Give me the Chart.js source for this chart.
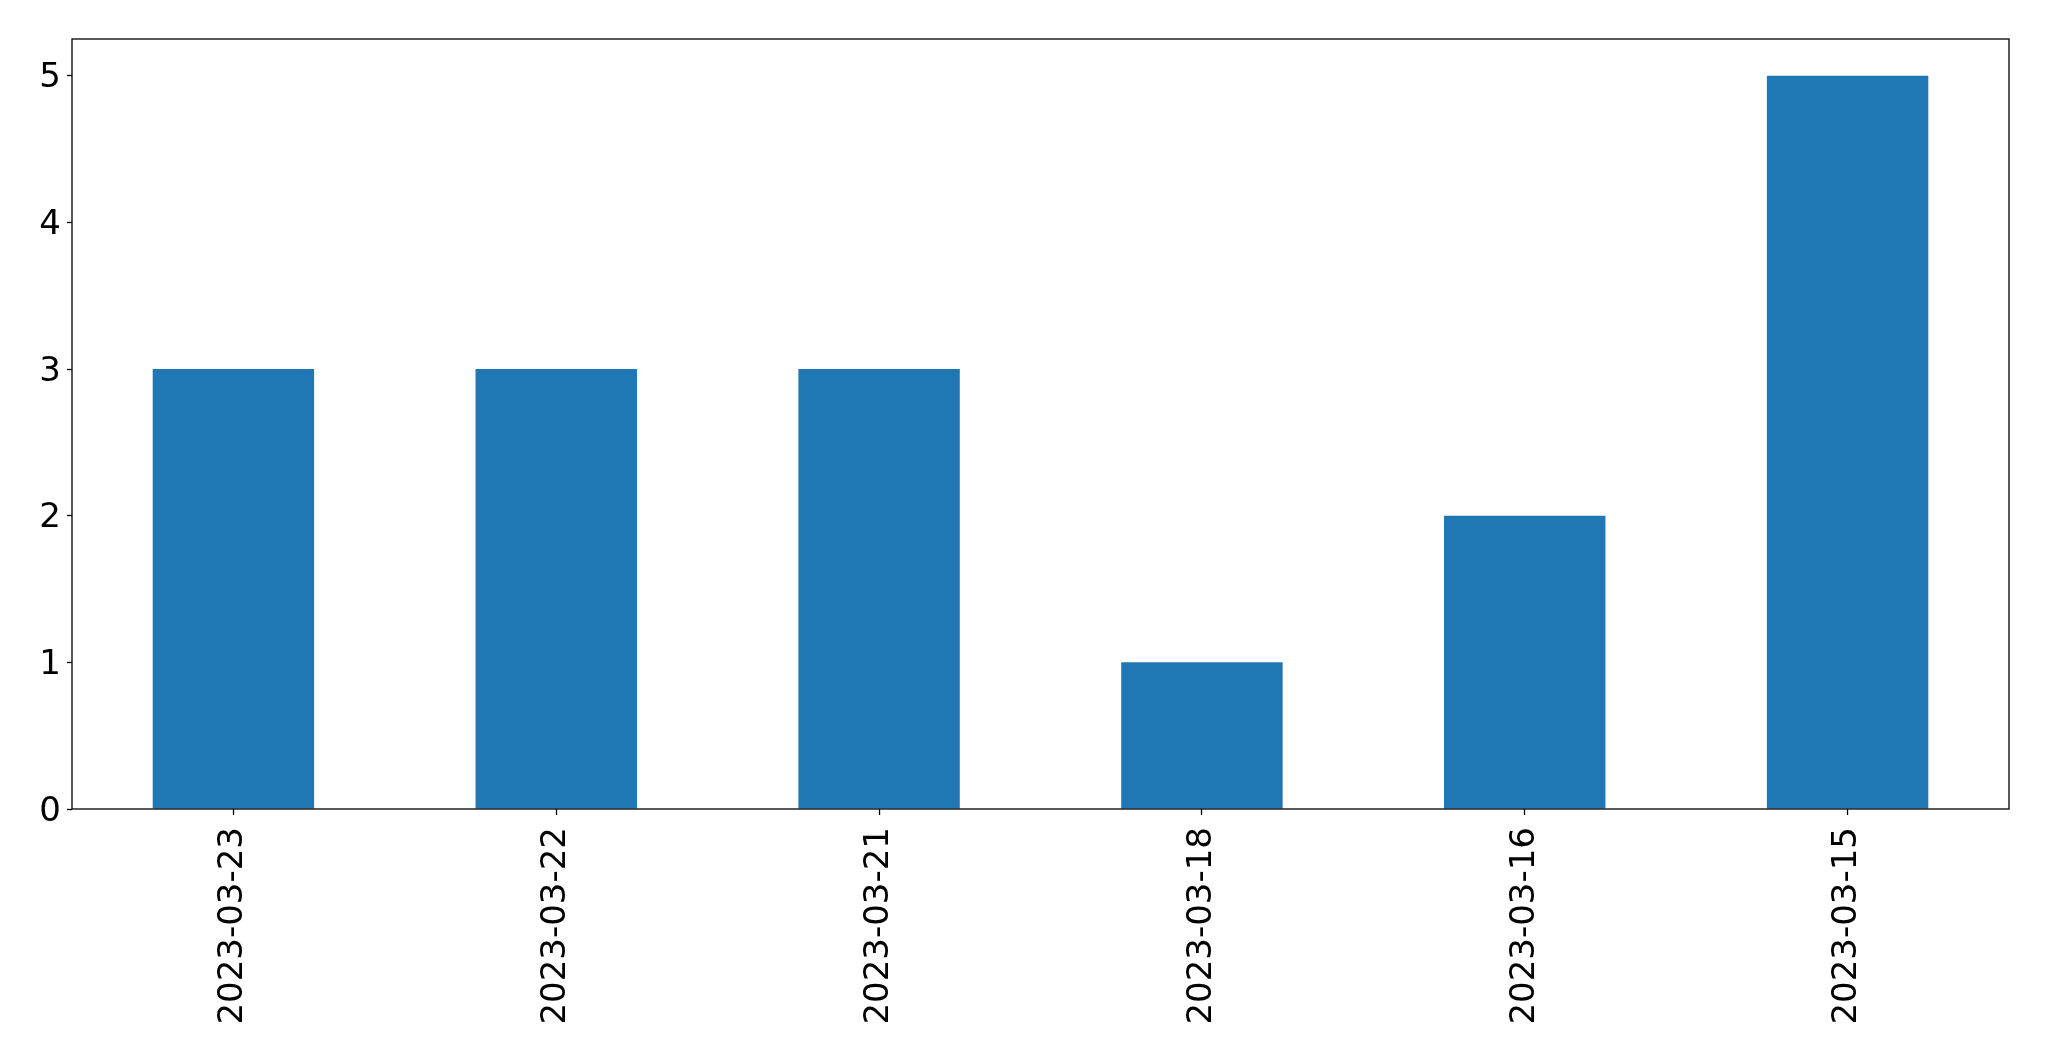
<!DOCTYPE html>
<html>
<head>
<meta charset="utf-8">
<script src="https://cdn.jsdelivr.net/npm/chart.js@4/dist/chart.umd.min.js"></script>
<style>
html,body{margin:0;padding:0;background:#fff;}
canvas{display:block;}
</style>
</head>
<body>
<canvas id="c" width="2049" height="1061"></canvas>
<script>
const categories = ["2023-03-23","2023-03-22","2023-03-21","2023-03-18","2023-03-16","2023-03-15"];
const values = [3, 3, 3, 1, 2, 5];
const yTicks = [0, 1, 2, 3, 4, 5];

const frame = {
  id: 'frame',
  afterDraw(chart) {
    const a = chart.chartArea, ctx = chart.ctx;
    ctx.save();
    ctx.strokeStyle = '#000';
    ctx.lineWidth = 1.3;
    ctx.strokeRect(a.left, a.top, a.right - a.left, a.bottom - a.top);
    ctx.restore();
  }
};

new Chart(document.getElementById('c'), {
  type: 'bar',
  data: {
    labels: categories,
    datasets: [{
      data: values,
      backgroundColor: '#1f77b4',
      borderWidth: 0,
      categoryPercentage: 1.0,
      barPercentage: 0.5
    }]
  },
  options: {
    responsive: false,
    animation: false,
    devicePixelRatio: 1,
    layout: { padding: { top: 39, right: 40, left: 0, bottom: 0 } },
    plugins: { legend: { display: false }, tooltip: { enabled: false } },
    scales: {
      x: {
        grid: { display: true, offset: false, drawOnChartArea: false, drawTicks: true, tickLength: 6, color: '#000', tickWidth: 1.3 },
        border: { display: false },
        ticks: {
          color: '#000',
          font: { family: 'DejaVu Sans', size: 34 },
          minRotation: 90, maxRotation: 90,
          padding: 12,
          autoSkip: false
        },
        afterFit(s) { s.height = 252; }
      },
      y: {
        min: 0,
        max: 5.25,
        grid: { display: true, drawOnChartArea: false, drawTicks: true, tickLength: 5, color: '#000', tickWidth: 1.3 },
        border: { display: false },
        afterBuildTicks(s) { s.ticks = yTicks.map(v => ({ value: v })); },
        ticks: {
          color: '#000',
          font: { family: 'DejaVu Sans', size: 34 },
          padding: 6,
          labelOffset: 3
        },
        afterFit(s) { s.width = 72; }
      }
    }
  },
  plugins: [frame]
});
</script>
</body>
</html>
